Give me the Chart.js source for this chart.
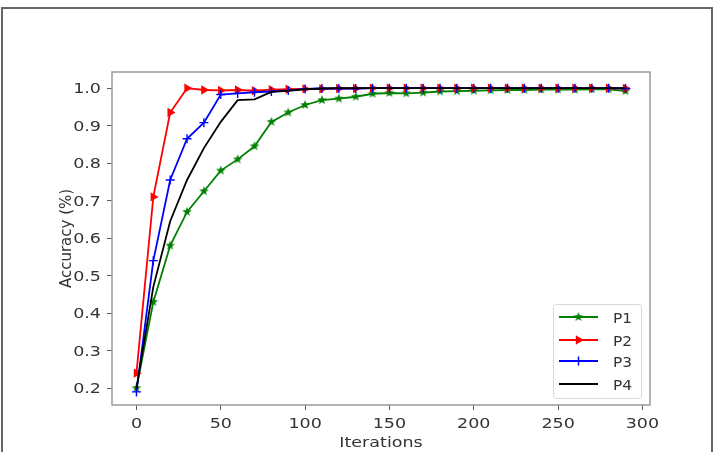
<!DOCTYPE html>
<html>
<head>
<meta charset="utf-8">
<script src="https://cdn.jsdelivr.net/npm/chart.js@4/dist/chart.umd.min.js"></script>
<style>
  html, body { margin: 0; padding: 0; background: #fff; }
  #wrap { position: relative; width: 715px; height: 452px; }
</style>
</head>
<body>
<div id="wrap"><canvas id="chart"></canvas></div>
<script>
// iterations on the x axis
const iterations = [0, 10, 20, 30, 40, 50, 60, 70, 80, 90, 100, 110, 120, 130, 140,
  150, 160, 170, 180, 190, 200, 210, 220, 230, 240, 250, 260, 270, 280, 290];

const p1 = [0.20, 0.43, 0.58, 0.67, 0.725, 0.78, 0.81, 0.845, 0.91, 0.935, 0.955, 0.968, 0.972, 0.977, 0.985,
  0.987, 0.986, 0.988, 0.991, 0.992, 0.993, 0.994, 0.995, 0.995, 0.996, 0.996, 0.996, 0.997, 0.997, 0.992];
const p2 = [0.24, 0.71, 0.935, 1.0, 0.995, 0.994, 0.995, 0.993, 0.996, 0.997, 0.998, 0.998, 0.999, 0.999, 1.0,
  1.0, 1.0, 1.0, 1.0, 1.0, 1.0, 1.0, 1.0, 1.0, 1.0, 1.0, 1.0, 1.0, 1.0, 0.999];
const p3 = [0.19, 0.54, 0.755, 0.865, 0.908, 0.983, 0.986, 0.989, 0.991, 0.994, 0.998, 0.999, 0.999, 0.999, 1.0,
  1.0, 1.0, 1.0, 1.0, 1.0, 1.0, 1.0, 1.0, 1.0, 1.0, 1.0, 1.0, 1.0, 1.0, 0.999];
const p4 = [0.20, 0.47, 0.645, 0.755, 0.84, 0.91, 0.968, 0.97, 0.99, 0.993, 0.997, 0.999, 1.0, 1.0, 1.0,
  1.0, 1.0, 1.0, 1.0, 1.0, 1.0, 1.0, 1.0, 1.0, 1.0, 1.0, 1.0, 1.0, 1.0, 1.0];

const xTicks = [0, 50, 100, 150, 200, 250, 300];
const yTicks = [0.2, 0.3, 0.4, 0.5, 0.6, 0.7, 0.8, 0.9, 1.0];
const seriesNames = ['P1', 'P2', 'P3', 'P4'];
const xTitle = 'Iterations';
const yTitle = 'Accuracy (%)';

const FONT = 'DejaVu Sans';
const TEXT = '#333';
const STRETCH = 1.25; // source picture is a bit wider than tall, text looks stretched

// filled star marker like matplotlib '*'
function makeStar(color, r) {
  const c = document.createElement('canvas');
  const size = r * 2 + 2;
  c.width = size;
  c.height = size;
  const ctx = c.getContext('2d');
  ctx.fillStyle = color;
  ctx.beginPath();
  for (let i = 0; i < 10; i++) {
    const rad = i % 2 === 0 ? r : r * 0.42;
    const a = -Math.PI / 2 + i * Math.PI / 5;
    const x = size / 2 + rad * Math.cos(a);
    const y = size / 2 + rad * Math.sin(a);
    if (i === 0) ctx.moveTo(x, y); else ctx.lineTo(x, y);
  }
  ctx.closePath();
  ctx.fill();
  return c;
}

const starImg = makeStar('#008000', 5);

function toPoints(arr) {
  return arr.map((v, i) => ({ x: iterations[i], y: v }));
}

const styles = [
  { color: '#008000', pointStyle: starImg, radius: 5, rotation: 0 },
  { color: '#ff0000', pointStyle: 'triangle', radius: 4, rotation: 90 },
  { color: '#0000ff', pointStyle: 'cross', radius: 4.5, rotation: 0 },
  { color: '#000000', pointStyle: false, radius: 0, rotation: 0 },
];

const seriesData = [p1, p2, p3, p4];

const datasets = seriesData.map((arr, i) => ({
  label: seriesNames[i],
  data: toPoints(arr),
  borderColor: styles[i].color,
  backgroundColor: styles[i].color,
  borderWidth: 1.8,
  pointStyle: styles[i].pointStyle,
  pointRadius: styles[i].radius,
  pointRotation: styles[i].rotation,
  pointBorderWidth: 1.4,
  pointBorderColor: styles[i].color,
  pointBackgroundColor: styles[i].color,
  tension: 0,
  order: 4 - i,
}));

function stretchedText(ctx, str, x, y, sx, align) {
  ctx.save();
  ctx.translate(x, y);
  ctx.scale(sx, 1);
  ctx.textAlign = align;
  ctx.fillText(str, 0, 0);
  ctx.restore();
}

// outer frame, axes box, tick labels, titles and legend
const framePlugin = {
  id: 'frame',
  beforeDraw(chart) {
    const ctx = chart.ctx;
    ctx.save();
    ctx.strokeStyle = '#666';
    ctx.lineWidth = 2;
    ctx.beginPath();
    ctx.moveTo(2, 460);
    ctx.lineTo(2, 8);
    ctx.lineTo(712, 8);
    ctx.lineTo(712, 460);
    ctx.stroke();
    ctx.restore();
  },
  afterDraw(chart) {
    const { ctx, chartArea: a } = chart;
    const xs = chart.scales.x;
    const ys = chart.scales.y;
    ctx.save();
    ctx.strokeStyle = '#9a9a9a';
    ctx.lineWidth = 1.5;
    ctx.strokeRect(a.left, a.top, a.right - a.left, a.bottom - a.top);

    // tick labels
    ctx.fillStyle = TEXT;
    ctx.font = '14px ' + FONT;
    ctx.textBaseline = 'alphabetic';
    xTicks.forEach(v => {
      stretchedText(ctx, String(v), xs.getPixelForValue(v), 427.5, STRETCH, 'center');
    });
    yTicks.forEach(v => {
      stretchedText(ctx, v.toFixed(1), 101, ys.getPixelForValue(v) + 5, STRETCH, 'right');
    });

    // axis titles
    stretchedText(ctx, xTitle, (a.left + a.right) / 2, 447, STRETCH, 'center');
    ctx.save();
    ctx.font = '15px ' + FONT;
    ctx.translate(71, (a.top + a.bottom) / 2);
    ctx.rotate(-Math.PI / 2);
    ctx.textAlign = 'center';
    ctx.fillText(yTitle, 0, 0);
    ctx.restore();

    // legend
    const bx = 553, by = 304, bw = 88, bh = 94;
    ctx.fillStyle = 'rgba(255,255,255,0.85)';
    ctx.strokeStyle = '#d8d8d8';
    ctx.lineWidth = 1;
    ctx.beginPath();
    ctx.roundRect(bx + 0.5, by + 0.5, bw, bh, 3);
    ctx.fill();
    ctx.stroke();

    const rowY = [317, 340, 361, 384];
    ctx.font = '14px ' + FONT;
    seriesNames.forEach((name, i) => {
      const s = styles[i];
      const y = rowY[i];
      ctx.strokeStyle = s.color;
      ctx.lineWidth = 1.8;
      ctx.beginPath();
      ctx.moveTo(559, y);
      ctx.lineTo(598, y);
      ctx.stroke();
      if (s.pointStyle) {
        ctx.fillStyle = s.color;
        ctx.strokeStyle = s.color;
        ctx.lineWidth = 1.4;
        Chart.helpers.drawPoint(ctx, {
          pointStyle: s.pointStyle,
          radius: s.radius,
          rotation: s.rotation,
          borderWidth: 1.4,
        }, 578.5, y);
      }
      ctx.fillStyle = TEXT;
      stretchedText(ctx, name, 613, y + 5.5, 1.1, 'left');
    });
    ctx.restore();
  },
};

new Chart(document.getElementById('chart'), {
  type: 'line',
  data: { datasets },
  options: {
    responsive: true,
    maintainAspectRatio: false,
    animation: false,
    layout: { padding: { left: 0, right: 65, top: 72, bottom: 0 } },
    plugins: {
      legend: { display: false },
      tooltip: { enabled: false },
    },
    scales: {
      x: {
        type: 'linear',
        min: -14.5,
        max: 304.5,
        afterBuildTicks(scale) {
          scale.ticks = xTicks.map(v => ({ value: v }));
        },
        afterFit(scale) {
          scale.height = 47;
        },
        border: { display: false },
        grid: { drawOnChartArea: false, drawTicks: true, tickLength: 5, color: '#555', lineWidth: 1 },
        ticks: { display: false },
      },
      y: {
        type: 'linear',
        min: 0.155,
        max: 1.043,
        afterBuildTicks(scale) {
          scale.ticks = yTicks.map(v => ({ value: v }));
        },
        afterFit(scale) {
          scale.width = 112;
        },
        border: { display: false },
        grid: { drawOnChartArea: false, drawTicks: true, tickLength: 5, color: '#555', lineWidth: 1 },
        ticks: { display: false },
      },
    },
  },
  plugins: [framePlugin],
});
</script>
</body>
</html>
